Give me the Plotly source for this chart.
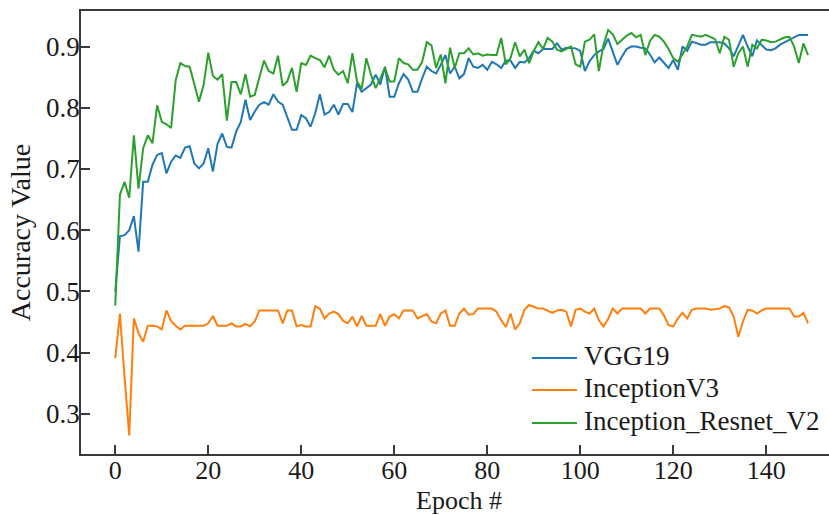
import plotly.graph_objects as go

epochs = list(range(150))

vgg19 = [
    0.500, 0.590, 0.592, 0.600, 0.623, 0.565, 0.679, 0.679, 0.707, 0.723,
    0.726, 0.693, 0.712, 0.722, 0.718, 0.735, 0.737, 0.709, 0.701, 0.709,
    0.734, 0.696, 0.741, 0.758, 0.736, 0.735, 0.761, 0.777, 0.813, 0.780,
    0.794, 0.805, 0.809, 0.805, 0.822, 0.810, 0.805, 0.786, 0.764, 0.764,
    0.788, 0.783, 0.769, 0.791, 0.822, 0.789, 0.793, 0.805, 0.789, 0.806,
    0.806, 0.793, 0.840, 0.826, 0.832, 0.838, 0.854, 0.838, 0.867, 0.818,
    0.818, 0.840, 0.855, 0.846, 0.826, 0.826, 0.848, 0.867, 0.860, 0.856,
    0.870, 0.886, 0.856, 0.867, 0.848, 0.855, 0.881, 0.867, 0.865, 0.870,
    0.862, 0.875, 0.871, 0.865, 0.877, 0.877, 0.865, 0.875, 0.874, 0.881,
    0.893, 0.889, 0.896, 0.896, 0.896, 0.905, 0.895, 0.898, 0.897, 0.897,
    0.893, 0.860, 0.876, 0.886, 0.892, 0.896, 0.913, 0.892, 0.870, 0.884,
    0.896, 0.900, 0.900, 0.898, 0.897, 0.887, 0.874, 0.882, 0.873, 0.865,
    0.878, 0.862, 0.900, 0.893, 0.908, 0.905, 0.903, 0.903, 0.907, 0.907,
    0.907, 0.905, 0.897, 0.884, 0.903, 0.919, 0.900, 0.884, 0.910, 0.903,
    0.895, 0.894, 0.897, 0.903, 0.907, 0.911, 0.916, 0.919, 0.919, 0.919,
]

inception_v3 = [
    0.391, 0.464, 0.360, 0.265, 0.456, 0.432, 0.418, 0.444, 0.444, 0.443,
    0.438, 0.469, 0.452, 0.444, 0.438, 0.444, 0.444, 0.444, 0.444, 0.444,
    0.448, 0.460, 0.444, 0.444, 0.444, 0.448, 0.443, 0.443, 0.447, 0.443,
    0.451, 0.469, 0.469, 0.469, 0.469, 0.469, 0.448, 0.469, 0.469, 0.443,
    0.445, 0.443, 0.443, 0.476, 0.472, 0.456, 0.464, 0.467, 0.463, 0.452,
    0.448, 0.459, 0.443, 0.460, 0.444, 0.444, 0.444, 0.463, 0.444, 0.459,
    0.463, 0.456, 0.469, 0.469, 0.469, 0.456, 0.459, 0.463, 0.451, 0.448,
    0.464, 0.469, 0.444, 0.444, 0.464, 0.472, 0.462, 0.463, 0.472, 0.472,
    0.472, 0.472, 0.467, 0.453, 0.442, 0.464, 0.438, 0.448, 0.470, 0.478,
    0.475, 0.472, 0.472, 0.469, 0.465, 0.469, 0.470, 0.467, 0.443, 0.470,
    0.472, 0.467, 0.464, 0.472, 0.453, 0.443, 0.455, 0.472, 0.464, 0.472,
    0.472, 0.472, 0.472, 0.472, 0.464, 0.472, 0.472, 0.472, 0.461, 0.445,
    0.443, 0.456, 0.465, 0.456, 0.470, 0.472, 0.472, 0.472, 0.470, 0.471,
    0.472, 0.476, 0.474, 0.459, 0.426, 0.451, 0.470, 0.469, 0.464, 0.469,
    0.472, 0.472, 0.472, 0.472, 0.472, 0.472, 0.459, 0.459, 0.465, 0.448,
]

inception_resnet_v2 = [
    0.477, 0.658, 0.679, 0.653, 0.755, 0.668, 0.734, 0.755, 0.742, 0.804,
    0.777, 0.773, 0.767, 0.845, 0.873, 0.868, 0.867, 0.840, 0.810, 0.837,
    0.890, 0.852, 0.846, 0.855, 0.779, 0.842, 0.842, 0.822, 0.855, 0.818,
    0.821, 0.850, 0.877, 0.860, 0.856, 0.885, 0.836, 0.843, 0.865, 0.826,
    0.873, 0.870, 0.885, 0.881, 0.878, 0.866, 0.885, 0.862, 0.854, 0.860,
    0.840, 0.889, 0.843, 0.831, 0.881, 0.854, 0.832, 0.848, 0.865, 0.843,
    0.843, 0.881, 0.873, 0.871, 0.862, 0.862, 0.875, 0.907, 0.902, 0.865,
    0.887, 0.840, 0.898, 0.865, 0.889, 0.889, 0.897, 0.887, 0.889, 0.885,
    0.887, 0.886, 0.886, 0.914, 0.871, 0.881, 0.907, 0.884, 0.895, 0.873,
    0.893, 0.907, 0.896, 0.914, 0.908, 0.895, 0.892, 0.896, 0.900, 0.871,
    0.867, 0.908, 0.911, 0.920, 0.860, 0.903, 0.927, 0.920, 0.904, 0.911,
    0.918, 0.922, 0.915, 0.919, 0.886, 0.909, 0.919, 0.916, 0.908, 0.896,
    0.881, 0.875, 0.887, 0.900, 0.919, 0.917, 0.916, 0.919, 0.915, 0.912,
    0.889, 0.916, 0.911, 0.867, 0.889, 0.900, 0.867, 0.903, 0.897, 0.911,
    0.910, 0.907, 0.908, 0.912, 0.915, 0.916, 0.900, 0.873, 0.905, 0.886,
]

series = [
    ("VGG19", vgg19, "#1f77b4"),
    ("InceptionV3", inception_v3, "#ff7f0e"),
    ("Inception_Resnet_V2", inception_resnet_v2, "#2ca02c"),
]

x_ticks = [0, 20, 40, 60, 80, 100, 120, 140]
y_ticks = [0.3, 0.4, 0.5, 0.6, 0.7, 0.8, 0.9]

serif = "Liberation Serif, Times New Roman, serif"
ink = "#1a1a1a"
spine = "#3a3a3a"

fig = go.Figure()
for name, values, color in series:
    fig.add_trace(go.Scatter(
        x=epochs, y=values, mode="lines", name=name,
        line=dict(color=color, width=2),
        showlegend=False,
    ))

# Legend drawn as line samples plus labels in the lower right of the axes
legend_x0, legend_x1, legend_text_x = 0.603, 0.663, 0.670
legend_rows = [0.2167, 0.1445, 0.070]
for (name, _, color), row_y in zip(series, legend_rows):
    fig.add_shape(
        type="line", xref="paper", yref="paper",
        x0=legend_x0, x1=legend_x1, y0=row_y, y1=row_y,
        line=dict(color=color, width=2),
    )
    fig.add_annotation(
        xref="paper", yref="paper", x=legend_text_x, y=row_y + 0.004,
        xanchor="left", yanchor="middle", showarrow=False,
        text=name, font=dict(family=serif, size=27, color=ink),
    )

# x-axis title placed just under the tick labels
fig.add_annotation(
    xref="paper", yref="paper", x=0.505, y=-0.104,
    xanchor="center", yanchor="middle", showarrow=False,
    text="Epoch #", font=dict(family=serif, size=26, color=ink),
)

fig.update_layout(
    width=829, height=515,
    margin=dict(l=81, r=0, t=11, b=61),
    paper_bgcolor="white", plot_bgcolor="white",
    font=dict(family=serif, size=27, color=ink),
    showlegend=False,
    xaxis=dict(
        range=[-7.37, 153.5],
        tickmode="array", tickvals=x_ticks,
        ticks="inside", ticklen=9, tickwidth=1.5, tickcolor=spine,
        showline=True, linecolor=spine, linewidth=1.5, mirror=True,
        showgrid=False, zeroline=False,
        ticklabelstandoff=-8,
        tickfont=dict(family=serif, size=26, color=ink),
    ),
    yaxis=dict(
        range=[0.2346, 0.958],
        tickmode="array", tickvals=y_ticks, ticktext=[f"{v:.1f}" for v in y_ticks],
        ticks="inside", ticklen=9, tickwidth=1.5, tickcolor=spine,
        showline=True, linecolor=spine, linewidth=1.5,
        showgrid=False, zeroline=False,
        ticklabelstandoff=-6,
        tickfont=dict(family=serif, size=27, color=ink),
        title=dict(text="Accuracy Value", font=dict(family=serif, size=28, color=ink), standoff=7),
    ),
)

fig.write_html("out.html")
